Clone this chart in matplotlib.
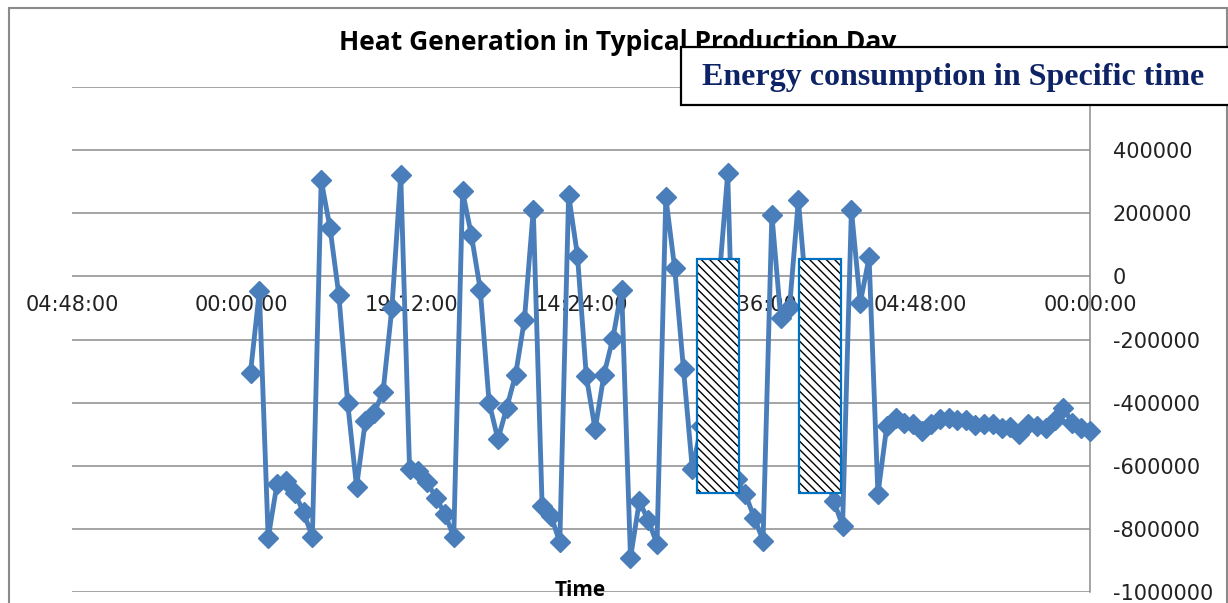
import numpy as np
import matplotlib
matplotlib.use("Agg")
import matplotlib.pyplot as plt
from matplotlib.patches import Rectangle
from matplotlib.ticker import FuncFormatter, FixedLocator

# Heat generation per 15-minute slot, listed from 23:45 back to 00:00
heat = [
    -305000, -47000, -829000, -658000, -648000, -685000, -748000, -825000,
    305000, 153000, -60000, -402000, -666000, -458000, -432000, -366000,
    -100000, 321000, -611000, -616000, -653000, -702000, -753000, -825000,
    269000, 130000, -42000, -400000, -516000, -416000, -311000, -137000,
    211000, -727000, -758000, -843000, 258000, 66000, -316000, -485000,
    -311000, -197000, -42000, -892000, -713000, -772000, -848000, 250000,
    26000, -295000, -611000, -475000, -250000, -20000, 326000, -643000,
    -690000, -764000, -837000, 195000, -132000, -98000, 242000, -90000,
    -400000, -620000, -711000, -790000, 211000, -84000, 60000, -690000,
    -475000, -448000, -463000, -467000, -490000, -467000, -453000, -448000,
    -456000, -456000, -471000, -467000, -469000, -481000, -477000, -498000,
    -469000, -474000, -479000, -455000, -416000, -466000, -479000, -489000,
]
slot_hours = np.arange(len(heat) - 1, -1, -1) * 0.25

# Time axis ticks (hours, axis runs backwards over 28.8 h)
x_ticks = [28.8, 24.0, 19.2, 14.4, 9.6, 4.8, 0.0]
y_ticks = [-1000000, -800000, -600000, -400000, -200000, 0, 200000, 400000, 600000]
y_labelled_max = 400000

# Time windows that are blanked out (hours)
masked_windows = [(9.93, 11.12), (7.04, 8.23)]
mask_low, mask_high = -686000, 54000

W, H = 1228, 603
fig = plt.figure(figsize=(W / 100, H / 100), dpi=100)
ax = fig.add_axes([72 / W, 11 / H, (1090 - 72) / W, (592 - 87) / H])

grid_c = "#8c8c8c"
ax.plot(slot_hours, heat, color="#4a7ebb", lw=3.5, marker="D", ms=10,
        zorder=3, clip_on=False)

ax.set_xlim(28.8, 0)
ax.set_ylim(-1000000, 600000)

ax.yaxis.set_major_locator(FixedLocator(y_ticks))
ax.yaxis.set_major_formatter(
    FuncFormatter(lambda v, p: f"{int(round(v))}" if v <= y_labelled_max else ""))
ax.yaxis.tick_right()
ax.tick_params(axis="y", length=0, pad=16.5, labelsize=15, labelcolor="#222222")

def hhmmss(h, pos=None):
    m = int(round((h % 24) * 60))
    return f"{m // 60:02d}:{m % 60:02d}:00"

ax.xaxis.set_major_locator(FixedLocator(x_ticks))
ax.xaxis.set_major_formatter(FuncFormatter(hhmmss))
ax.spines["bottom"].set_position(("data", 0))
ax.tick_params(axis="x", length=0, pad=13.5, labelsize=15, labelcolor="#222222")

for s in ["left", "top", "bottom"]:
    ax.spines[s].set_visible(False)
ax.spines["right"].set_color(grid_c)
ax.spines["right"].set_linewidth(1.1)

ax.grid(axis="y", color=grid_c, lw=1.1)
ax.grid(axis="x", visible=False)
ax.set_axisbelow(True)
for lbl in ax.get_xticklabels() + ax.get_yticklabels():
    lbl.set_fontfamily("DejaVu Sans")

plt.rcParams["hatch.linewidth"] = 1.0
for start, end in masked_windows:
    ax.add_patch(Rectangle((start, mask_low), end - start, mask_high - mask_low,
                           facecolor="white", edgecolor="black", lw=0,
                           hatch="\\\\\\\\", zorder=4))
    ax.add_patch(Rectangle((start, mask_low), end - start, mask_high - mask_low,
                           fill=False, edgecolor="#0070c0", lw=1.6, zorder=5))

# Chart frame
fig.add_artist(Rectangle((8.5 / W, -0.05), (1226.5 - 8.5) / W, 1.05 - 8 / H,
                         transform=fig.transFigure, fill=False,
                         edgecolor="#8a8a8a", lw=1.5, zorder=0))

fig.text(618 / W, 1 - 43 / H, "Heat Generation in Typical Production Day",
         ha="center", va="center", fontsize=19, fontfamily="Open Sans",
         fontweight="bold", color="black", zorder=6)
fig.text(580 / W, 1 - 590 / H, "Time", ha="center", va="center",
         fontsize=15, fontfamily="Open Sans", fontweight="bold", color="black",
         zorder=6)

fig.add_artist(Rectangle((681 / W, 1 - 105 / H), (1240 - 681) / W, 58 / H,
                         transform=fig.transFigure, facecolor="white",
                         edgecolor="black", lw=1.6, zorder=10))
fig.text(702 / W, 1 - 78 / H, "Energy consumption in Specific time",
         ha="left", va="center", fontsize=23, fontfamily="Liberation Serif",
         fontweight="bold", color="#0d2366", zorder=11)

fig.savefig("out.png", dpi=100)
